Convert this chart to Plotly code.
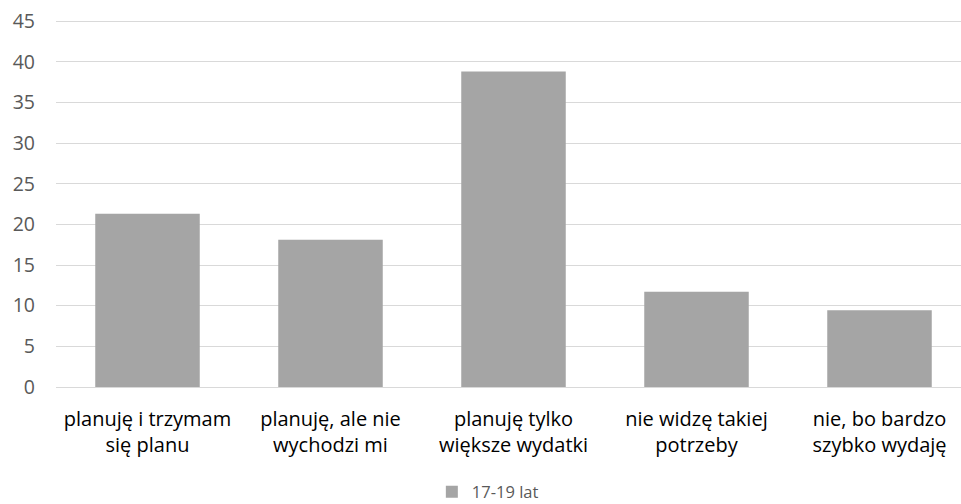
import plotly.graph_objects as go

categories = ["planuję i trzymam<br>się planu", "planuję, ale nie<br>wychodzi mi",
              "planuję tylko<br>większe wydatki", "nie widzę takiej<br>potrzeby",
              "nie, bo bardzo<br>szybko wydaję"]
values = [21.3, 18.1, 38.8, 11.7, 9.45]
series_name = "17-19 lat"
y_ticks = [0, 5, 10, 15, 20, 25, 30, 35, 40, 45]

FONT = "Open Sans, Calibri, sans-serif"

fig = go.Figure()
fig.add_trace(go.Bar(
    x=list(range(len(categories))), y=values, name=series_name,
    marker=dict(color="#a5a5a5", line=dict(width=0)),
    width=0.571, showlegend=True,
))

fig.update_layout(
    width=961, height=504,
    margin=dict(l=56, r=0, t=19, b=117, autoexpand=False),
    plot_bgcolor="white", paper_bgcolor="white",
    font=dict(family=FONT, size=17, color="#595959"),
    legend=dict(orientation="h", x=0.4153, xanchor="left", y=0.024, yref="container",
                yanchor="middle", font=dict(size=16.5, color="#595959"),
                itemwidth=30, bgcolor="rgba(0,0,0,0)"),
    xaxis=dict(
        range=[-0.5, -0.5 + 905 / 183], automargin=False,
        tickvals=list(range(len(categories))), ticktext=categories,
        tickfont=dict(size=20, color="#000000"),
        showgrid=False, zeroline=False, showline=False, ticks="",
        ticklabelstandoff=18,
    ),
    yaxis=dict(
        range=[0, 45.25], tickvals=y_ticks, automargin=False,
        tickfont=dict(size=19.5, color="#595959"),
        showgrid=True, gridcolor="#d9d9d9", gridwidth=1,
        zeroline=True, zerolinecolor="#d9d9d9", zerolinewidth=1,
        showline=False, ticks="", ticklabelstandoff=20,
    ),
)

fig.write_html("out.html", config={"displayModeBar": False},
               post_script="document.body.style.margin='0';document.body.style.padding='0';")
